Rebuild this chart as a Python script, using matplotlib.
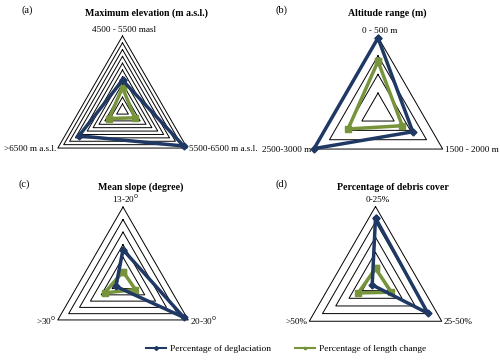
import numpy as np
import matplotlib
matplotlib.use('Agg')
import matplotlib.pyplot as plt
from matplotlib.lines import Line2D

plt.rcParams['font.family'] = ['Liberation Serif', 'DejaVu Serif']

# 数据
titles = ['Maximum elevation (m a.s.l.)', 'Altitude range (m)',
          'Mean slope (degree)', 'Percentage of debris cover']
tags = ['(a)', '(b)', '(c)', '(d)']
cats_a = ['4500 - 5500 masl', '5500-6500 m a.s.l.', '>6500 m a.s.l.']
cats_b = ['0 - 500 m', '1500 - 2000 m', '2500-3000 m']
cats_c = ['13-20$^0$', '20-30$^0$', '>30$^0$']
cats_d = ['0-25%', '25-50%', '>50%']
degl_a = [22.5, 52, 37]
degl_b = [39.5, 21.5, 39.5]
degl_c = [26, 56, 6.5]
degl_d = [42.5, 39.5, 2.5]
len_a = [17, 10.5, 11.5]
len_b = [27, 15, 18.5]
len_c = [8.5, 11.5, 17]
len_d = [9.5, 12, 13]
ring_max = [55, 40, 60, 50]
n_rings = [11, 4, 6, 5]

blue = '#1f3864'
green = '#77933c'

# 每个小图的中心和半径（像素）
centers = [(122.5, 110.7), (378, 111.7), (123, 282.3), (375.5, 283)]
radius = [74.7, 74.7, 75.3, 76.5]
title_xy = [(146.5, 13), (387, 13), (141, 187), (392.5, 187)]
tag_xy = [(27, 10), (282, 10), (24, 184), (282, 184)]

fig = plt.figure(figsize=(5, 3.61), dpi=100)
ax = fig.add_axes([0, 0, 1, 1])
ax.set_xlim(0, 500)
ax.set_ylim(361, 0)
ax.axis('off')

ang = np.radians([0, 120, 240])

def to_xy(vals, c, R, vmax):
    r = np.asarray(vals, float) / vmax * R
    x = c[0] + r * np.sin(ang)
    y = c[1] - r * np.cos(ang)
    return np.append(x, x[0]), np.append(y, y[0])

cats = [cats_a, cats_b, cats_c, cats_d]
degl = [degl_a, degl_b, degl_c, degl_d]
lenc = [len_a, len_b, len_c, len_d]

for i in range(4):
    c, R, vmax, n = centers[i], radius[i], ring_max[i], n_rings[i]
    for k in range(1, n + 1):
        gx, gy = to_xy([vmax * k / n] * 3, c, R, vmax)
        ax.plot(gx, gy, color='black', lw=0.7, zorder=1)
    bx, by = to_xy(degl[i], c, R, vmax)
    ax.plot(bx, by, color=blue, lw=2.5, marker='D', ms=3.5, zorder=3)
    gx, gy = to_xy(lenc[i], c, R, vmax)
    ax.plot(gx, gy, color=green, lw=2.5, marker='s', ms=5, zorder=2)

    # 轴标签
    ax.text(c[0] + 2, c[1] - R - 2, cats[i][0], ha='center', va='bottom', fontsize=6.6)
    ax.text(c[0] + R * 0.866 + 2, c[1] + R * 0.5 + 1, cats[i][1], ha='left', va='center', fontsize=6.6)
    ax.text(c[0] - R * 0.866 - 2, c[1] + R * 0.5 + 1, cats[i][2], ha='right', va='center', fontsize=6.6)
    ax.text(title_xy[i][0], title_xy[i][1], titles[i], ha='center', va='center', fontsize=7.1, fontweight='bold')
    ax.text(tag_xy[i][0], tag_xy[i][1], tags[i], ha='center', va='center', fontsize=7.5)

handles = [Line2D([], [], color=blue, lw=1.5, marker='D', ms=2),
           Line2D([], [], color=green, lw=1.5, marker='s', ms=2)]
fig.legend(handles, ['Percentage of deglaciation', 'Percentage of length change'],
           loc='center', bbox_to_anchor=(286 / 500, 0.034), ncol=2, frameon=False,
           fontsize=6.8, handlelength=2.2, columnspacing=2.5, handletextpad=0.4)

fig.savefig('out.png', dpi=100)
